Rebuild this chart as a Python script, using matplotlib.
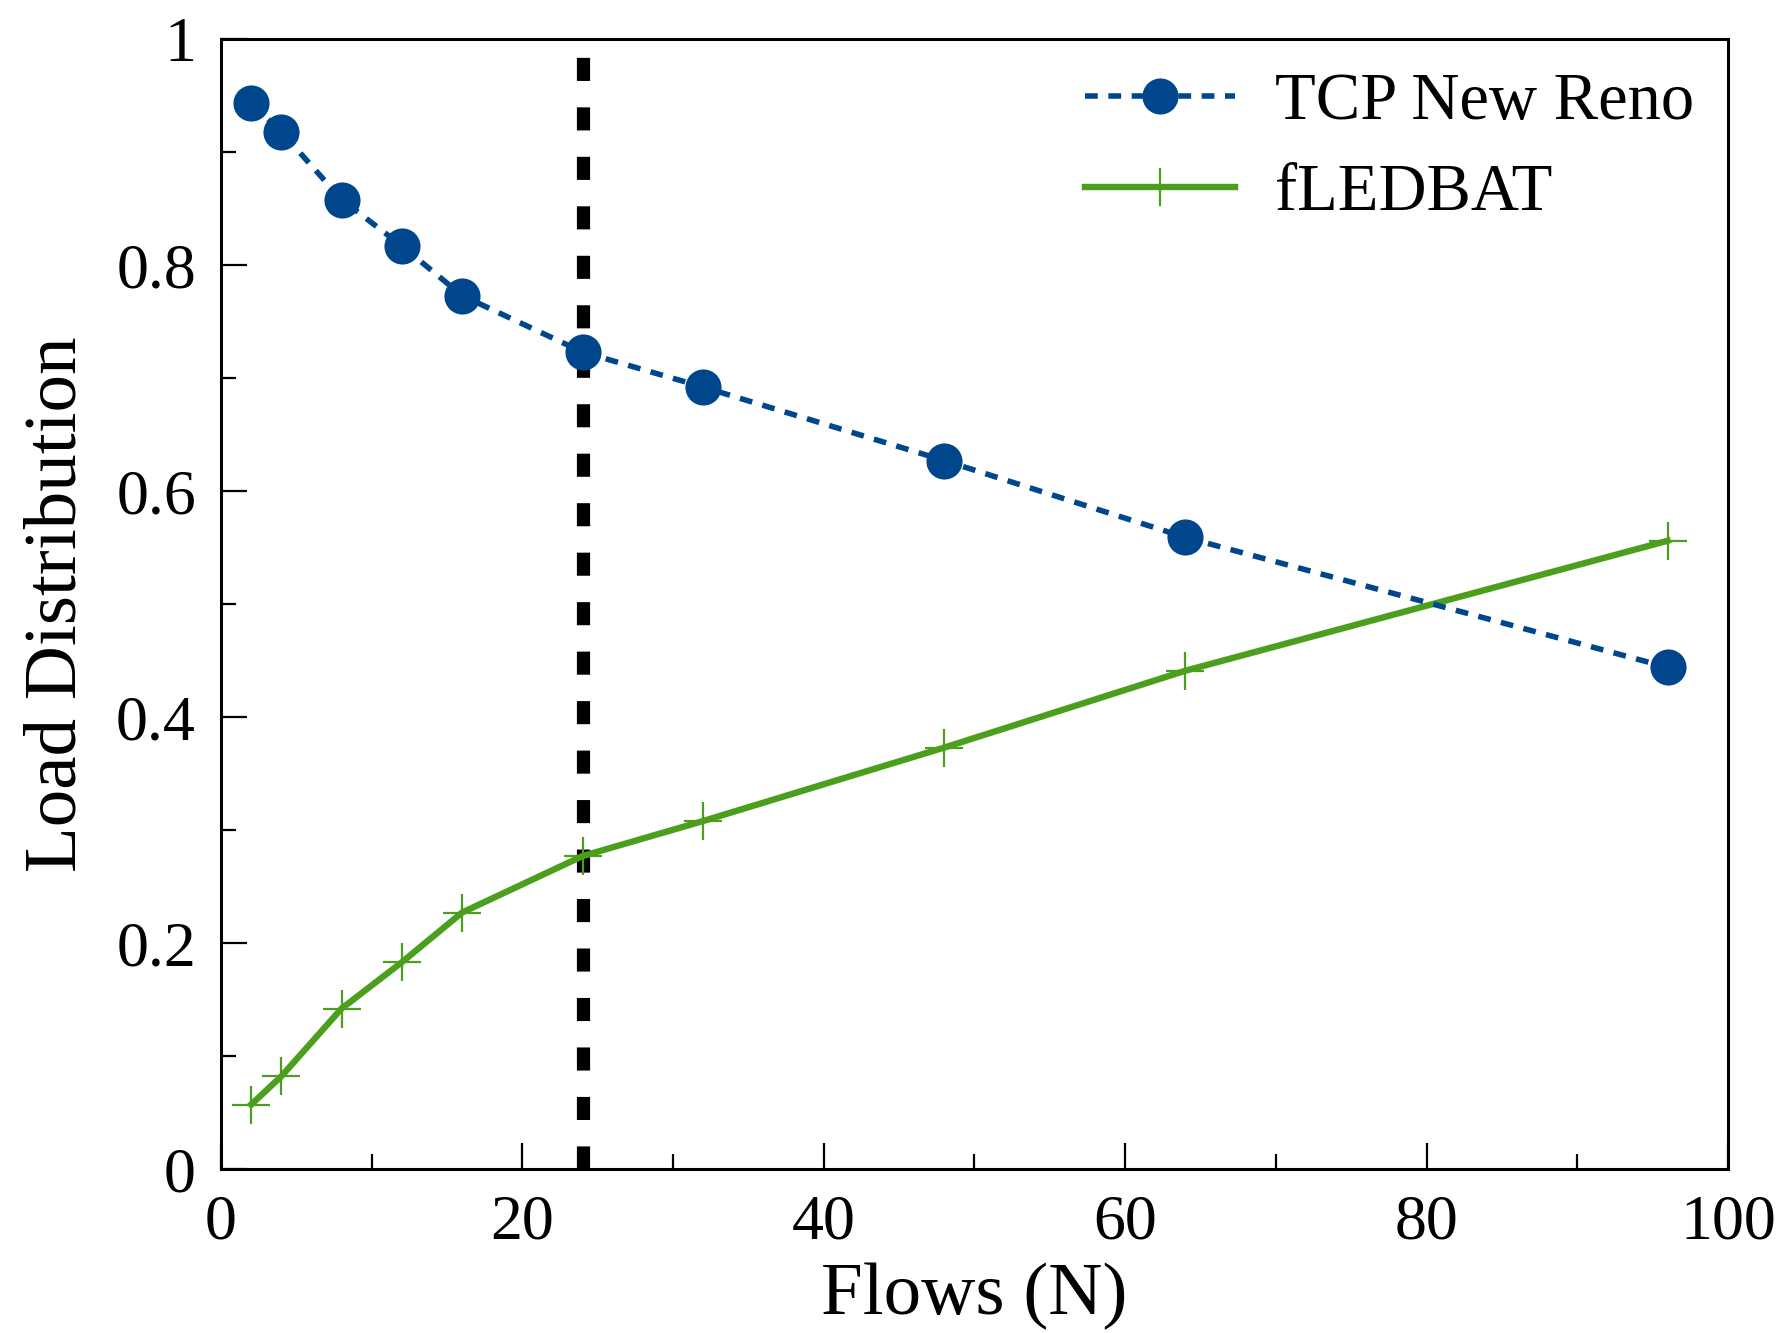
import matplotlib
matplotlib.use("Agg")
import matplotlib.pyplot as plt
from matplotlib.ticker import MultipleLocator

# data
flows = [2, 4, 8, 12, 16, 24, 32, 48, 64, 96]
tcp_newreno = [0.943, 0.918, 0.858, 0.817, 0.773, 0.723, 0.692, 0.627, 0.559, 0.444]
fledbat = [0.057, 0.082, 0.142, 0.183, 0.227, 0.277, 0.308, 0.373, 0.441, 0.556]
threshold = 24

x_ticks = [0, 20, 40, 60, 80, 100]
y_ticks = [0, 0.2, 0.4, 0.6, 0.8, 1]
y_ticklabels = ["0", "0.2", "0.4", "0.6", "0.8", "1"]

plt.rcParams['font.family'] = ['Liberation Serif', 'DejaVu Serif']

fig = plt.figure(figsize=(17.85, 13.33), dpi=100)
ax = fig.add_axes([0.1238, 0.123, 0.968 - 0.1238, 0.9707 - 0.123])

blue = '#00468c'
green = '#4c9f1c'

# vertical threshold line
ax.axvline(threshold, color='black', lw=9.5, dashes=(1.75, 2.0), zorder=1)

ax.plot(flows, tcp_newreno, color=blue, lw=4.0, dashes=(2.3, 1.9),
        marker='o', markersize=26, markeredgewidth=0, label='TCP New Reno', zorder=3)
ax.plot(flows, fledbat, color=green, lw=4.6, marker='+', markersize=28,
        markeredgewidth=1.6, label='fLEDBAT', zorder=2)

ax.set_xlim(0, 100)
ax.set_ylim(0, 1)
ax.set_xticks(x_ticks)
ax.set_yticks(y_ticks)
ax.set_yticklabels(y_ticklabels)
ax.xaxis.set_minor_locator(MultipleLocator(10))
ax.yaxis.set_minor_locator(MultipleLocator(0.1))

ax.tick_params(which='both', direction='in', top=False, right=False, width=1.6)
ax.tick_params(which='major', length=19, labelsize=46, pad=18)
ax.tick_params(which='minor', length=11)
for s in ax.spines.values():
    s.set_linewidth(2.2)

ax.set_xlabel('Flows (N)', fontsize=54, labelpad=8)
ax.set_ylabel('Load Distribution', fontsize=54, labelpad=18)

ax.legend(loc='upper right', frameon=False, fontsize=48, handlelength=2.25,
          labelspacing=0.45, handletextpad=0.6, borderaxespad=0.1,
          bbox_to_anchor=(1.0, 1.0))

fig.savefig('out.png', dpi=100)
